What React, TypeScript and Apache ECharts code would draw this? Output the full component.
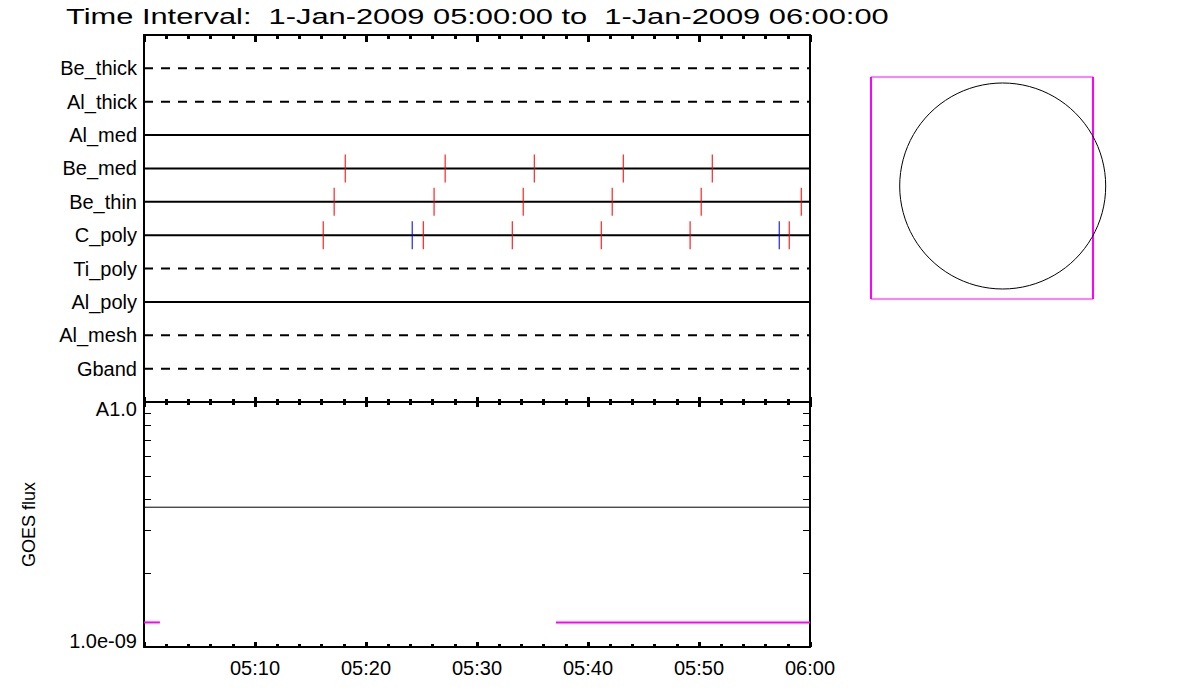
import React, { useEffect, useRef } from 'react';
import * as echarts from 'echarts';

const titleText = 'Time Interval:  1-Jan-2009 05:00:00 to  1-Jan-2009 06:00:00';

const rowNames = ['Be_thick', 'Al_thick', 'Al_med', 'Be_med', 'Be_thin', 'C_poly', 'Ti_poly', 'Al_poly', 'Al_mesh', 'Gband'];
const rowLineTypes = ['dashed', 'dashed', 'solid', 'solid', 'solid', 'solid', 'dashed', 'solid', 'dashed', 'dashed'];

const beMedRedTimes = ['05:18:08', '05:27:08', '05:35:10', '05:43:11', '05:51:12'];
const beThinRedTimes = ['05:17:08', '05:26:08', '05:34:10', '05:42:11', '05:50:12', '05:59:13'];
const cPolyRedTimes = ['05:16:09', '05:25:10', '05:33:11', '05:41:12', '05:49:12', '05:58:08'];
const cPolyBlueTimes = ['05:24:10', '05:57:14'];

const xTickLabels = ['05:00', '05:10', '05:20', '05:30', '05:40', '05:50', '06:00'];

const goesLowTimes = ['05:00:00', '06:00:00'];
const goesLowFlux = [3.72e-9, 3.72e-9];
const goesHighSegmentTimes = [['05:00:00', '05:01:26'], ['05:37:07', '06:00:00']];
const goesHighFlux = 1.26e-9;
const goesLabelExps = [-9, -8];
const goesLabelTexts = ['1.0e-09', 'A1.0'];
const goesMinorTicks = [2e-9, 3e-9, 4e-9, 5e-9, 6e-9, 7e-9, 8e-9, 9e-9];

const FONT = 'Liberation Sans';

function toMin(t: string): number {
  const [h, m, s] = t.split(':').map(Number);
  return (h - 5) * 60 + m + s / 60;
}

export default function App() {
  const ref = useRef<HTMLDivElement>(null);
  useEffect(() => {
    const chart = echarts.init(ref.current!, null, { renderer: 'svg' });

    const canvas = document.createElement('canvas');
    const ctx = canvas.getContext('2d')!;
    ctx.font = `22px "${FONT}"`;
    const tw = ctx.measureText(titleText).width || 640;
    const titleScale = 823 / tw;

    const black = '#000000';
    const gridL = 144, gridW = 666;

    const tickAxis = (gridIndex: number, position: string, majorLen: number, minorLen: number, showLabels: boolean) => ({
      type: 'value',
      gridIndex,
      position,
      min: 0,
      max: 60,
      interval: 10,
      axisLine: { show: true, onZero: false, lineStyle: { color: black, width: 2 } },
      axisTick: { show: true, inside: true, length: majorLen, lineStyle: { color: black, width: 3 } },
      minorTick: { show: true, splitNumber: 5, length: minorLen, lineStyle: { color: black, width: 3 } },
      splitLine: { show: false },
      minorSplitLine: { show: false },
      axisLabel: {
        show: showLabels,
        showMinLabel: false,
        color: black,
        fontFamily: FONT,
        fontSize: 20,
        margin: 11,
        formatter: (v: number) => xTickLabels[Math.round(v / 10)] ?? '',
      },
    });

    const goesYAxis = (position: string, withLabels: boolean) => ({
      type: 'log',
      gridIndex: 1,
      position,
      min: 1e-9,
      max: 1e-8,
      axisLine: { show: true, onZero: false, lineStyle: { color: black, width: 2 } },
      axisTick: { show: true, inside: true, length: 7, lineStyle: { color: black, width: 1 }, customValues: goesMinorTicks },
      splitLine: { show: false },
      ...(withLabels
        ? {
            name: 'GOES flux',
            nameLocation: 'middle',
            nameRotate: 90,
            nameGap: 106,
            nameTextStyle: { color: black, fontFamily: FONT, fontSize: 18 },
            axisLabel: {
              color: black,
              fontFamily: FONT,
              fontSize: 20,
              margin: 7,
              formatter: (v: number) => {
                const e = Math.round(Math.log10(v));
                const idx = goesLabelExps.indexOf(e);
                if (idx < 0) return '';
                return e === -8 ? `{top|${goesLabelTexts[idx]}}` : `{bot|${goesLabelTexts[idx]}}`;
              },
              rich: {
                top: { fontFamily: FONT, fontSize: 20, color: black, padding: [14, 0, 0, 0] },
                bot: { fontFamily: FONT, fontSize: 20, color: black, padding: [0, 0, 12, 0] },
              },
            },
          }
        : { axisLabel: { show: false } }),
    });

    const rowSeries = rowNames.map((name, i) => ({
      type: 'line',
      name,
      xAxisIndex: 1,
      yAxisIndex: 0,
      data: [[0, i + 1], [60, i + 1]],
      symbol: 'none',
      silent: true,
      lineStyle: { color: black, width: 2, type: rowLineTypes[i] === 'dashed' ? [9, 8] : 'solid' },
    }));

    const tickSeries = (name: string, times: string[], row: string, color: string) => ({
      type: 'scatter',
      name,
      xAxisIndex: 1,
      yAxisIndex: 0,
      symbol: 'rect',
      symbolSize: [1.3, 28],
      silent: true,
      itemStyle: { color },
      z: 5,
      data: times.map((t) => [toMin(t), rowNames.indexOf(row) + 1]),
    });

    const option: any = {
      animation: false,
      backgroundColor: '#ffffff',
      grid: [
        { left: gridL, top: 35, width: gridW, height: 367 },
        { left: gridL, top: 402, width: gridW, height: 245 },
      ],
      xAxis: [
        tickAxis(0, 'top', 7, 4, false),
        tickAxis(0, 'bottom', 5, 3, false),
        tickAxis(1, 'top', 5, 3, false),
        tickAxis(1, 'bottom', 5, 3, true),
      ],
      yAxis: [
        {
          type: 'value',
          gridIndex: 0,
          position: 'left',
          min: 0,
          max: 11,
          interval: 1,
          inverse: true,
          axisLine: { show: true, onZero: false, lineStyle: { color: black, width: 2 } },
          axisTick: { show: false },
          splitLine: { show: false },
          axisLabel: {
            color: black,
            fontFamily: FONT,
            fontSize: 20,
            margin: 7,
            formatter: (v: number) => rowNames[Math.round(v) - 1] ?? '',
          },
        },
        {
          type: 'value',
          gridIndex: 0,
          position: 'right',
          min: 0,
          max: 11,
          axisLine: { show: true, onZero: false, lineStyle: { color: black, width: 2 } },
          axisTick: { show: false },
          axisLabel: { show: false },
          splitLine: { show: false },
        },
        goesYAxis('left', true),
        goesYAxis('right', false),
      ],
      series: [
        ...rowSeries,
        tickSeries('Be_med events', beMedRedTimes, 'Be_med', '#ff0000'),
        tickSeries('Be_thin events', beThinRedTimes, 'Be_thin', '#ff0000'),
        tickSeries('C_poly events', cPolyRedTimes, 'C_poly', '#ff0000'),
        tickSeries('C_poly events (blue)', cPolyBlueTimes, 'C_poly', '#0000ff'),
        {
          type: 'line',
          name: 'GOES low',
          xAxisIndex: 3,
          yAxisIndex: 2,
          symbol: 'none',
          silent: true,
          lineStyle: { color: black, width: 1 },
          data: goesLowTimes.map((t, i) => [toMin(t), goesLowFlux[i]]),
        },
        ...goesHighSegmentTimes.map((seg, i) => ({
          type: 'line',
          name: 'GOES high ' + (i + 1),
          xAxisIndex: 3,
          yAxisIndex: 2,
          symbol: 'none',
          silent: true,
          z: 4,
          lineStyle: { color: '#ff00ff', width: 2 },
          data: seg.map((t) => [toMin(t), goesHighFlux]),
        })),
      ],
      graphic: [
        {
          type: 'text',
          x: 66,
          y: 17,
          scaleX: titleScale,
          style: {
            text: titleText,
            fontFamily: FONT,
            fontSize: 22,
            fill: black,
            verticalAlign: 'middle',
          },
        },
        {
          type: 'rect',
          shape: { x: 871, y: 77, width: 222, height: 222 },
          style: { fill: 'none', stroke: '#ff00ff', lineWidth: 1 },
        },
        {
          type: 'line',
          shape: { x1: 871, y1: 77, x2: 871, y2: 299 },
          style: { stroke: '#ff00ff', lineWidth: 2 },
        },
        {
          type: 'line',
          shape: { x1: 1093, y1: 77, x2: 1093, y2: 299 },
          style: { stroke: '#ff00ff', lineWidth: 2 },
        },
        {
          type: 'circle',
          shape: { cx: 1002.7, cy: 186, r: 103 },
          style: { fill: 'none', stroke: black, lineWidth: 1 },
        },
      ],
    };

    chart.setOption(option);
    return () => chart.dispose();
  }, []);

  return (
    <div
      ref={ref}
      style={{ position: 'fixed', left: 0, top: 0, width: 1200, height: 700, background: '#ffffff' }}
    />
  );
}
